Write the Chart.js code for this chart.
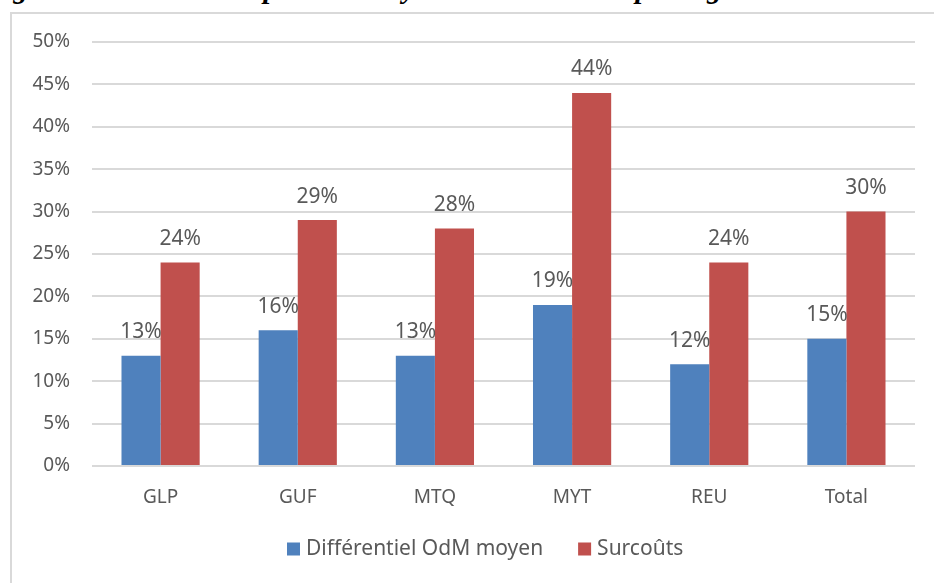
<!DOCTYPE html>
<html>
<head>
<meta charset="utf-8">
<script src="https://cdn.jsdelivr.net/npm/chart.js@4/dist/chart.umd.min.js"></script>
<style>
  html, body { margin: 0; padding: 0; width: 934px; height: 583px; overflow: hidden; background: #fff; }
  #frame { position: absolute; left: 10px; top: 12px; width: 940px; height: 590px; border: 2px solid #d9d9d9; box-sizing: border-box; }
  .ttl { position: absolute; top: -28px; font-family: "Liberation Serif", serif; font-weight: bold; font-style: italic; font-size: 29px; color: #000; white-space: nowrap; }
  #wrap { position: absolute; left: 0; top: 0; width: 934px; height: 583px; }
</style>
</head>
<body>
<div class="ttl" style="left:-14px;">Figure 4 :</div>
<div class="ttl" style="left:207px;">Composition moyenne des surcoûts par région</div>
<div id="frame"></div>
<div id="wrap"><canvas id="c" width="934" height="583"></canvas></div>
<script>
const categories = ["GLP", "GUF", "MTQ", "MYT", "REU", "Total"];
const seriesNames = ["Différentiel OdM moyen", "Surcoûts"];
const differentiel = [13, 16, 13, 19, 12, 15];
const surcouts = [24, 29, 28, 44, 24, 30];
const yTicks = [0, 5, 10, 15, 20, 25, 30, 35, 40, 45, 50];

const FONT = '"Noto Sans", sans-serif';
const GREY = '#595959';

const valueLabels = {
  id: 'valueLabels',
  afterDatasetsDraw(chart) {
    const ctx = chart.ctx;
    ctx.save();
    ctx.font = '21px ' + FONT;
    ctx.fillStyle = GREY;
    ctx.textAlign = 'center';
    ctx.textBaseline = 'bottom';
    chart.data.datasets.forEach((ds, i) => {
      chart.getDatasetMeta(i).data.forEach((bar, j) => {
        ctx.fillText(ds.data[j] + '%', bar.x, bar.y - 13);
      });
    });
    ctx.restore();
  }
};

const customLegend = {
  id: 'customLegend',
  afterDraw(chart) {
    const ctx = chart.ctx;
    ctx.save();
    ctx.font = '21px ' + FONT;
    ctx.textBaseline = 'middle';
    ctx.textAlign = 'left';
    let x = 287;
    const y = 549;
    chart.data.datasets.forEach(ds => {
      ctx.fillStyle = ds.backgroundColor;
      ctx.fillRect(x, y - 6.5, 13, 13);
      x += 19;
      ctx.fillStyle = GREY;
      ctx.fillText(ds.label, x, y);
      x += ctx.measureText(ds.label).width + 35;
    });
    ctx.restore();
  }
};

new Chart(document.getElementById('c'), {
  type: 'bar',
  data: {
    labels: categories,
    datasets: [
      { label: seriesNames[0], data: differentiel, backgroundColor: '#4F81BD' },
      { label: seriesNames[1], data: surcouts, backgroundColor: '#C0504D' }
    ]
  },
  options: {
    responsive: false,
    animation: false,
    devicePixelRatio: 1,
    layout: { padding: { left: 0, right: 19, top: 42, bottom: 56 } },
    datasets: { bar: { categoryPercentage: 0.57, barPercentage: 1.0 } },
    scales: {
      x: {
        grid: { display: false },
        border: { display: false },
        ticks: { color: GREY, font: { family: FONT, size: 19 }, padding: 12 },
        afterFit(s) { s.height = 61; }
      },
      y: {
        min: 0, max: 50,
        afterBuildTicks(s) { s.ticks = yTicks.map(v => ({ value: v })); },
        grid: { color: '#d9d9d9', lineWidth: 2, drawTicks: false },
        border: { display: false },
        ticks: { color: GREY, font: { family: FONT, size: 19 }, padding: 22, callback: v => v + '%' },
        afterFit(s) { s.width = 92; }
      }
    },
    plugins: {
      legend: { display: false },
      tooltip: { enabled: false }
    }
  },
  plugins: [valueLabels, customLegend]
});
</script>
</body>
</html>
